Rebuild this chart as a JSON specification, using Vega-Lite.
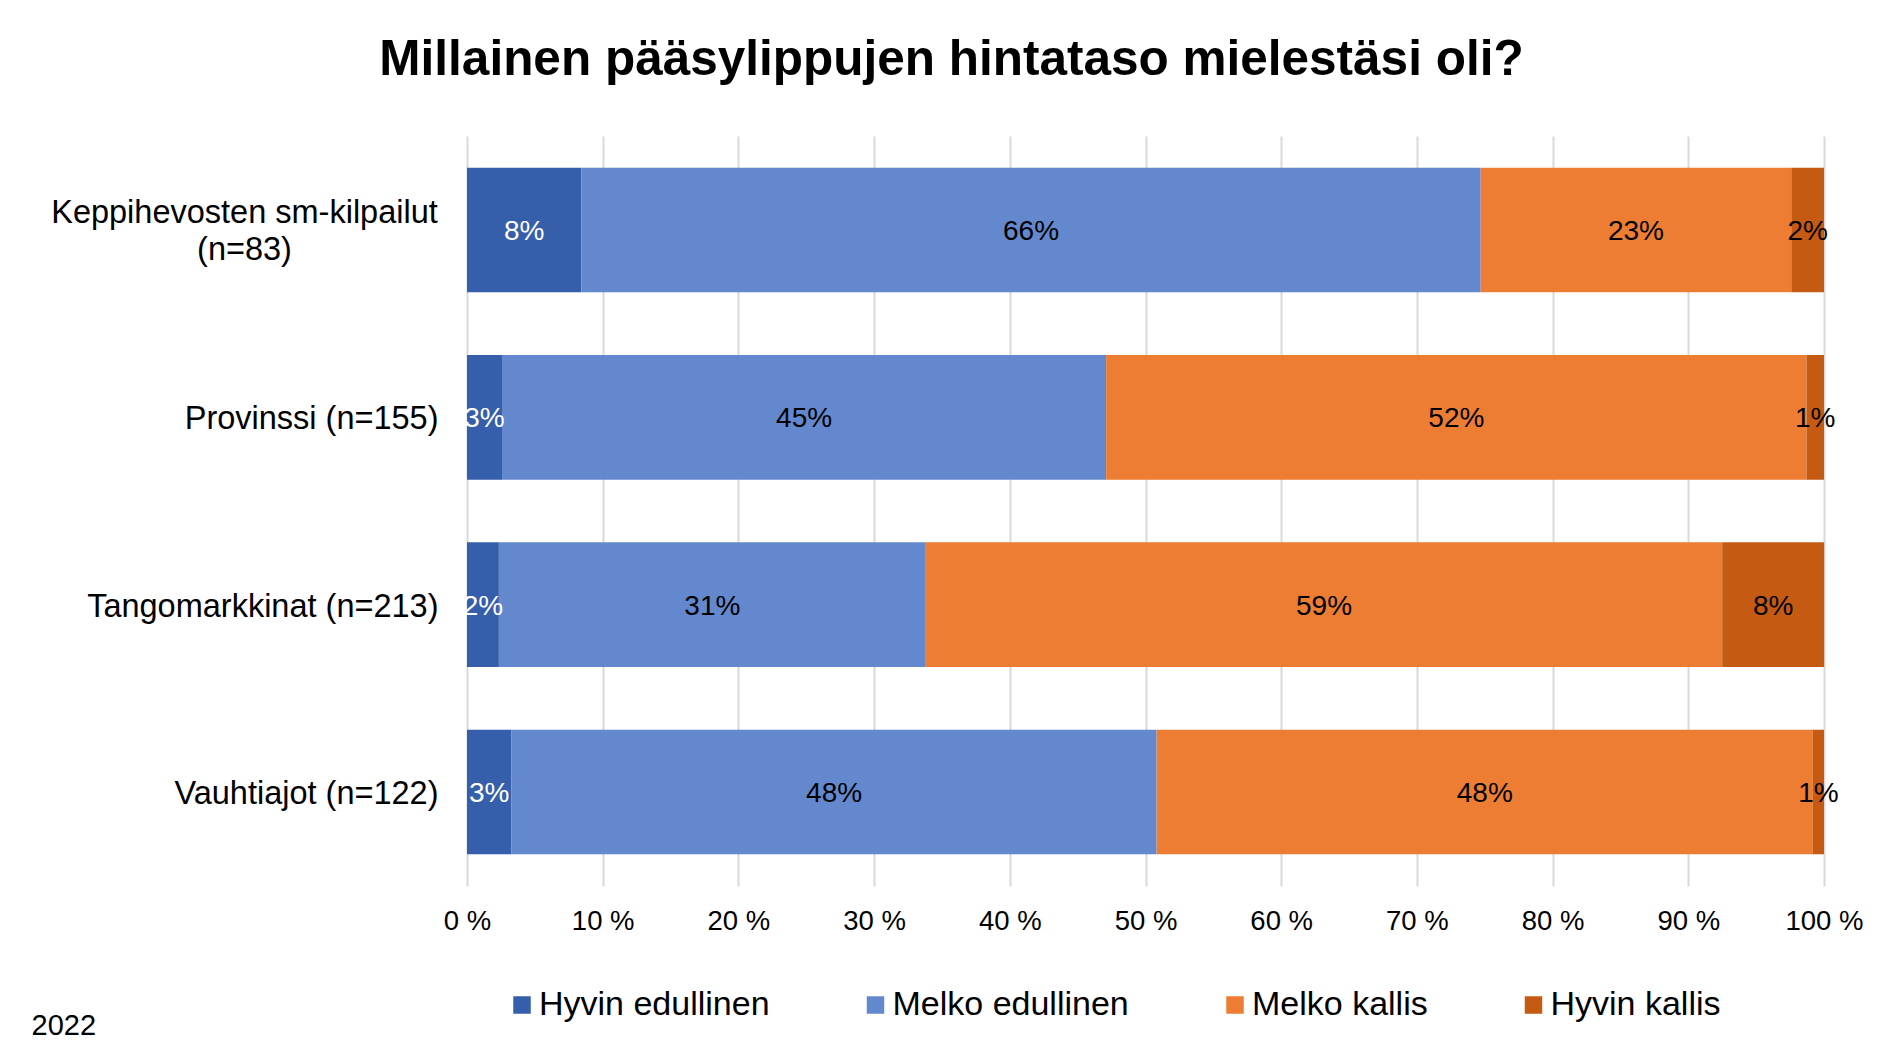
{
  "$schema": "https://vega.github.io/schema/vega-lite/v6.json",
  "width": 1357,
  "height": 750,
  "autosize": "none",
  "padding": {"left": 467, "top": 136, "right": 54, "bottom": 165},
  "background": "white",
  "config": {"font": "Liberation Sans", "view": {"stroke": null}},
  "title": {
    "text": "Millainen pääsylippujen hintataso mielestäsi oli?",
    "fontSize": 49.5, "fontWeight": "bold", "color": "black",
    "anchor": "middle", "frame": "group", "dx": -194,
    "baseline": "alphabetic", "offset": 12
  },
  "data": {"values": [
    {"event": "Keppihevosten sm-kilpailut (n=83)", "cat": "Hyvin edullinen", "rank": 1, "value": 0.0843},
    {"event": "Keppihevosten sm-kilpailut (n=83)", "cat": "Melko edullinen", "rank": 2, "value": 0.6627},
    {"event": "Keppihevosten sm-kilpailut (n=83)", "cat": "Melko kallis", "rank": 3, "value": 0.2289},
    {"event": "Keppihevosten sm-kilpailut (n=83)", "cat": "Hyvin kallis", "rank": 4, "value": 0.0241},
    {"event": "Provinssi (n=155)", "cat": "Hyvin edullinen", "rank": 1, "value": 0.0258},
    {"event": "Provinssi (n=155)", "cat": "Melko edullinen", "rank": 2, "value": 0.4452},
    {"event": "Provinssi (n=155)", "cat": "Melko kallis", "rank": 3, "value": 0.5161},
    {"event": "Provinssi (n=155)", "cat": "Hyvin kallis", "rank": 4, "value": 0.0129},
    {"event": "Tangomarkkinat (n=213)", "cat": "Hyvin edullinen", "rank": 1, "value": 0.0235},
    {"event": "Tangomarkkinat (n=213)", "cat": "Melko edullinen", "rank": 2, "value": 0.3146},
    {"event": "Tangomarkkinat (n=213)", "cat": "Melko kallis", "rank": 3, "value": 0.5869},
    {"event": "Tangomarkkinat (n=213)", "cat": "Hyvin kallis", "rank": 4, "value": 0.0751},
    {"event": "Vauhtiajot (n=122)", "cat": "Hyvin edullinen", "rank": 1, "value": 0.0328},
    {"event": "Vauhtiajot (n=122)", "cat": "Melko edullinen", "rank": 2, "value": 0.4754},
    {"event": "Vauhtiajot (n=122)", "cat": "Melko kallis", "rank": 3, "value": 0.4836},
    {"event": "Vauhtiajot (n=122)", "cat": "Hyvin kallis", "rank": 4, "value": 0.0082}
  ]},
  "transform": [
    {"stack": "value", "groupby": ["event"], "sort": [{"field": "rank", "order": "ascending"}], "as": ["v0", "v1"]},
    {"calculate": "(datum.v0 + datum.v1) / 2", "as": "mid"}
  ],
  "encoding": {
    "y": {
      "field": "event", "type": "nominal",
      "sort": ["Keppihevosten sm-kilpailut (n=83)", "Provinssi (n=155)", "Tangomarkkinat (n=213)", "Vauhtiajot (n=122)"],
      "scale": {"paddingInner": 0.335, "paddingOuter": 0.17},
      "axis": {
        "title": null, "domain": false, "ticks": false, "grid": false,
        "labelFontSize": 32.5, "labelColor": "black", "labelLimit": 600,
        "labelLineHeight": 37,
        "labelExpr": "datum.value == 'Keppihevosten sm-kilpailut (n=83)' ? ['Keppihevosten sm-kilpailut', '(n=83)'] : datum.label",
        "labelAlign": {"condition": {"test": "datum.value == 'Keppihevosten sm-kilpailut (n=83)'", "value": "center"}, "value": "right"},
        "labelPadding": {"condition": {"test": "datum.value == 'Keppihevosten sm-kilpailut (n=83)'", "value": 223}, "value": 29},
        "labelOffset": {"condition": {"test": "datum.value == 'Keppihevosten sm-kilpailut (n=83)'", "value": -17}, "value": 2}
      }
    }
  },
  "layer": [
    {
      "mark": {"type": "bar"},
      "encoding": {
        "x": {
          "field": "v0", "type": "quantitative",
          "scale": {"domain": [0, 1], "nice": false},
          "axis": {
            "values": [0, 0.1, 0.2, 0.3, 0.4, 0.5, 0.6, 0.7, 0.8, 0.9, 1],
            "labelExpr": "round(datum.value * 100) + ' %'",
            "labelFontSize": 27.5, "labelColor": "black", "labelPadding": 21,
            "labelFlush": false, "labelOverlap": false,
            "grid": true, "gridColor": "#D9D9D9", "gridWidth": 2,
            "domain": false, "ticks": false,
            "title": "2022", "titleX": -436, "titleY": 148,
            "titleAlign": "left", "titleAnchor": "start", "titleBaseline": "alphabetic",
            "titleFontSize": 29, "titleFontWeight": "normal", "titleColor": "black"
          }
        },
        "x2": {"field": "v1"},
        "color": {
          "field": "cat", "type": "nominal",
          "scale": {
            "domain": ["Hyvin edullinen", "Melko edullinen", "Melko kallis", "Hyvin kallis"],
            "range": ["#355EAB", "#6488CD", "#ED7D32", "#C55A12"]
          },
          "legend": {
            "title": null, "orient": "none", "legendX": 38, "legendY": 852,
            "direction": "horizontal", "symbolType": "square", "symbolSize": 306,
            "symbolStrokeWidth": 0, "labelFontSize": 34, "labelColor": "black",
            "labelOffset": 0, "columnPadding": 88.5, "labelLimit": 400
          }
        }
      }
    },
    {
      "mark": {"type": "text", "fontSize": 28, "baseline": "middle", "align": "center", "dy": 2},
      "encoding": {
        "x": {"field": "mid", "type": "quantitative"},
        "text": {"field": "value", "type": "quantitative", "format": ".0%"},
        "color": {"condition": {"test": "datum.cat === 'Hyvin edullinen'", "value": "white"}, "value": "black"}
      }
    }
  ]
}
